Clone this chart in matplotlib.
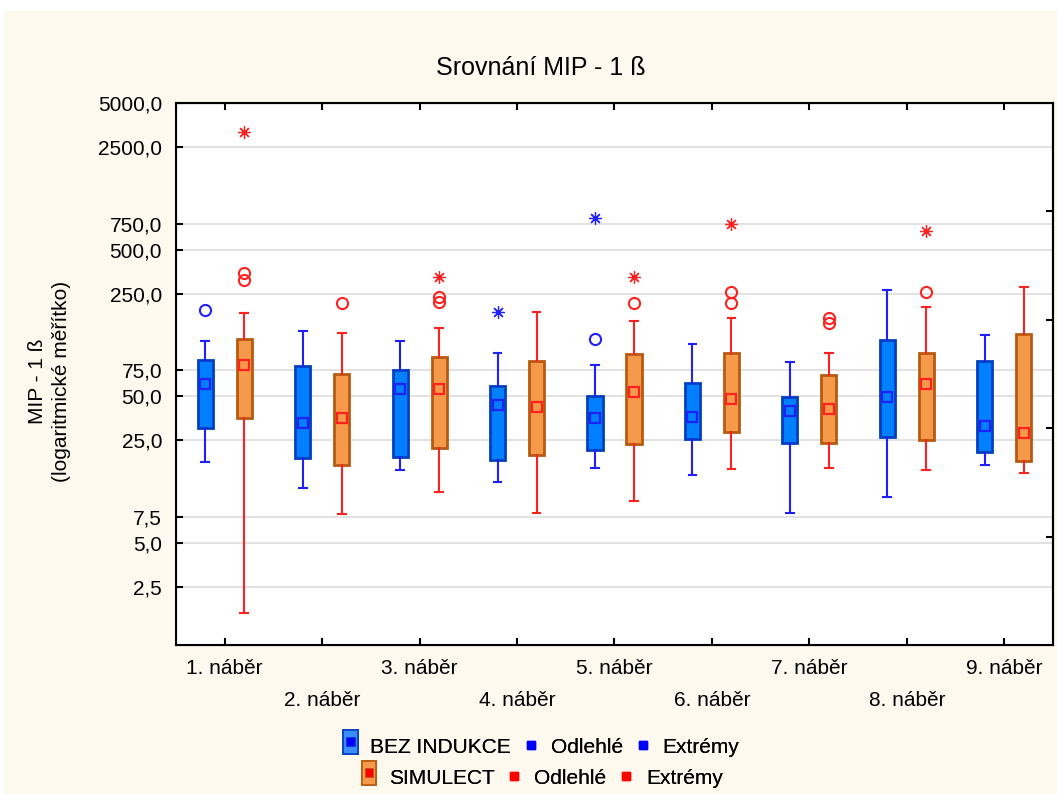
import matplotlib
matplotlib.use("Agg")
import matplotlib.pyplot as plt
from matplotlib.patches import Rectangle
from matplotlib.lines import Line2D

plt.rcParams["font.family"] = ["Liberation Sans", "DejaVu Sans"]

# data (log scale)
categories = [f"{i}. náběr" for i in range(1, 10)]

blue_whislo = [17.8, 11.8, 15.7, 13.0, 16.2, 14.5, 8.0, 10.3, 17.0]
blue_q1 = [30.4, 19.0, 19.3, 18.4, 21.5, 25.6, 24.0, 26.4, 20.8]
blue_med = [60.6, 32.9, 56.1, 43.6, 35.6, 36.1, 39.7, 49.4, 31.4]
blue_q3 = [88.4, 80.5, 75.5, 58.8, 50.2, 61.6, 49.4, 121, 87.0]
blue_whishi = [119, 139, 119, 98.7, 81.7, 114, 85.7, 265, 131]
blue_outliers = [[194], [], [], [], [123], [], [], [], []]
blue_extremes = [[], [], [], [188], [822], [], [], [], []]

orange_whislo = [1.66, 7.87, 11.1, 8.0, 9.66, 16.0, 16.2, 15.7, 14.8]
orange_q1 = [35.6, 17.0, 22.2, 19.9, 23.6, 28.5, 24.0, 25.2, 18.1]
orange_med = [81.7, 35.6, 56.1, 42.3, 53.5, 47.9, 41.0, 60.6, 28.1]
orange_q3 = [123, 71.0, 92.7, 87.0, 97.1, 98.7, 69.8, 98.7, 133]
orange_whishi = [185, 135, 146, 188, 163, 171, 98.7, 203, 278]
orange_outliers = [[311, 347], [216], [220, 238], [], [216], [216, 257], [158, 171], [257], []]
orange_extremes = [[3175], [], [326], [], [326], [748], [], [670], []]

yticks = [2.5, 5, 7.5, 25, 50, 75, 250, 500, 750, 2500, 5000]

cream = "#FDF9EF"
blue_fill, blue_edge, blue_line = "#0080FF", "#0040C0", "#2020FF"
orange_fill, orange_edge, red_line = "#F59A4A", "#B85A10", "#FF2020"

fig = plt.figure(figsize=(10.57, 7.94), dpi=100)
fig.patch.set_facecolor("white")
fig.add_artist(Rectangle((4 / 1057, 0), 1, 1 - 11 / 794, transform=fig.transFigure,
                         facecolor=cream, edgecolor="none", zorder=-10))

ax = fig.add_axes([0.1665, 0.1877, 0.8297, 0.6826])
ax.set_facecolor("white")


def stats(whislo, q1, med, q3, whishi, fl):
    return [dict(whislo=a, q1=b, med=c, mean=c, q3=d, whishi=e, fliers=f)
            for a, b, c, d, e, f in zip(whislo, q1, med, q3, whishi, fl)]


pos = list(range(1, 10))
offset = 0.2
groups = [
    (stats(blue_whislo, blue_q1, blue_med, blue_q3, blue_whishi, blue_outliers),
     blue_extremes, -offset, blue_fill, blue_edge, blue_line),
    (stats(orange_whislo, orange_q1, orange_med, orange_q3, orange_whishi, orange_outliers),
     orange_extremes, offset, orange_fill, orange_edge, red_line),
]

for st, extremes, off, fill, edge, line in groups:
    p = [x + off for x in pos]
    ax.bxp(st, positions=p, widths=0.155, capwidths=0.08, patch_artist=True,
           showmeans=True, manage_ticks=False,
           boxprops=dict(facecolor=fill, edgecolor=edge, linewidth=2),
           whiskerprops=dict(color=line, linewidth=1.5),
           capprops=dict(color=line, linewidth=1.5),
           medianprops=dict(visible=False),
           meanprops=dict(marker="s", markerfacecolor="none", markeredgecolor=line,
                          markeredgewidth=1.6, markersize=7.5),
           flierprops=dict(marker="o", markerfacecolor="none", markeredgecolor=line,
                           markeredgewidth=1.5, markersize=8))
    for x, ex in zip(p, extremes):
        if ex:
            ax.plot([x] * len(ex), ex, linestyle="none", marker=(8, 2, 0),
                    color=line, markersize=9, markeredgewidth=0.9)

ax.set_yscale("log")
ax.set_ylim(1.0, 5000)
ax.set_xlim(0.5, 9.5)
ax.set_yticks(yticks)
ax.set_yticklabels([f"{v:.1f}".replace(".", ",") for v in yticks], fontsize=15)
ax.yaxis.set_minor_locator(matplotlib.ticker.NullLocator())
ax.set_xticks(pos)
ax.set_xticklabels(categories, fontsize=15)
for i, t in enumerate(ax.xaxis.get_major_ticks()):
    t.set_pad(10 if i % 2 == 0 else 33)
ax.tick_params(axis="both", direction="in", length=5, width=1.5, top=True, right=False)
ax.tick_params(axis="y", pad=10)
ax.grid(axis="y", color="#DDDDDD", linewidth=1.2)
ax.set_axisbelow(True)
for s in ax.spines.values():
    s.set_linewidth(1.5)

# right side ticks (unlabelled, evenly spaced)
ax2 = ax.twinx()
ax2.set_ylim(0, 1)
ax2.set_yticks([0.2, 0.4, 0.6, 0.8])
ax2.set_yticklabels([])
ax2.tick_params(axis="y", direction="in", length=5, width=1.5)
ax2.spines["right"].set_linewidth(1.5)

fig.text(0.512, 0.914, "Srovnání MIP - 1 ß", ha="center", va="center", fontsize=18)
fig.text(0.047, 0.52, "MIP - 1 ß\n(logaritmické měřítko)", ha="center", va="center",
         rotation=90, fontsize=15, linespacing=1.3)


# legend: box symbol = tall filled rectangle with a small square inside
class BoxHandler:
    def __init__(self, fill, edge, inner):
        self.fill, self.edge, self.inner = fill, edge, inner

    def legend_artist(self, legend, orig_handle, fontsize, handlebox):
        x0, y0 = handlebox.xdescent, handlebox.ydescent
        w, h = handlebox.width, handlebox.height
        outer = Rectangle((x0, y0 - 2), w, h + 4, facecolor=self.fill, edgecolor=self.edge,
                          linewidth=1.2, transform=handlebox.get_transform())
        s = w * 0.6
        inner = Rectangle((x0 + (w - s) / 2, y0 + (h - s) / 2), s, s, facecolor=self.inner,
                          edgecolor=self.edge, linewidth=0.6, transform=handlebox.get_transform())
        handlebox.add_artist(outer)
        handlebox.add_artist(inner)
        return outer


sq = dict(linestyle="none", marker="s", markersize=6)
rows = [
    (["BEZ INDUKCE", "Odlehlé", "Extrémy"], "#3A8CFF", "#0040C0", "#0000FF", 0.059, 0.512),
    (["SIMULECT", "Odlehlé", "Extrémy"], orange_fill, orange_edge, "#FF0000", 0.020, 0.513),
]
for labels, fill, edge, inner, y, x in rows:
    box_h = Line2D([], [])
    hs = [box_h, Line2D([], [], color=inner, **sq), Line2D([], [], color=inner, **sq)]
    leg = fig.legend(hs, labels, loc="center", bbox_to_anchor=(x, y), ncol=3,
                     frameon=False, fontsize=15, handlelength=0.7, handleheight=1.0,
                     handletextpad=0.6, columnspacing=0.6,
                     handler_map={box_h: BoxHandler(fill, edge, inner)})
    fig.add_artist(leg)

fig.savefig("out.png", dpi=100, facecolor=fig.get_facecolor())
